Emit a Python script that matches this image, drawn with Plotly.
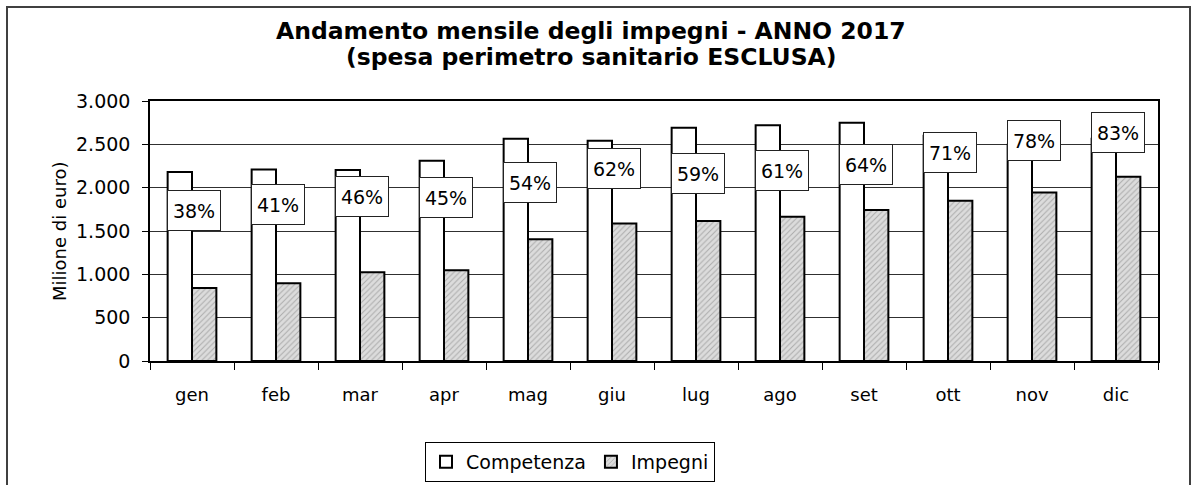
import plotly.graph_objects as go

months = ["gen", "feb", "mar", "apr", "mag", "giu", "lug", "ago", "set", "ott", "nov", "dic"]
competenza = [2180, 2210, 2205, 2310, 2565, 2540, 2690, 2720, 2750, 2600, 2495, 2565]
impegni = [843, 897, 1025, 1048, 1406, 1587, 1614, 1664, 1741, 1848, 1945, 2126]
percentuali = [38, 41, 46, 45, 54, 62, 59, 61, 64, 71, 78, 83]
title_lines = ["Andamento mensile degli impegni - ANNO 2017",
               "(spesa perimetro sanitario ESCLUSA)"]

FONT = "DejaVu Sans"

fig = go.Figure()
fig.add_trace(go.Bar(
    x=months, y=competenza, name="Competenza",
    marker=dict(color="white", line=dict(color="black", width=2)),
))
fig.add_trace(go.Bar(
    x=months, y=impegni, name="Impegni",
    marker=dict(color="#d4d4d4", line=dict(color="black", width=2),
                pattern=dict(shape="/", bgcolor="#dcdcdc", fgcolor="#7a7a7a",
                             size=4, solidity=0.25, fillmode="overlay")),
))
# invisible carrier for the percentage axis
fig.add_trace(go.Scatter(
    x=months, y=[p / 100 for p in percentuali], yaxis="y2",
    mode="markers", marker=dict(opacity=0, size=1), showlegend=False, hoverinfo="skip",
))

for m, p in zip(months, percentuali):
    fig.add_annotation(
        x=m, y=p / 100, xref="x", yref="y2", text=f"{p}%", xshift=2,
        showarrow=False, font=dict(family=FONT, size=19, color="black"),
        bgcolor="white", bordercolor="#222", borderwidth=1, borderpad=1,
        width=50, height=37, align="center", valign="middle",
    )

fig.add_annotation(
    xref="paper", yref="paper", x=-0.0903, y=0.5, text="Milione di euro)",
    textangle=-90, showarrow=False, xanchor="center", yanchor="middle",
    font=dict(family=FONT, size=18, color="black"),
)

for line, ypx in zip(title_lines, [30.5, 57]):
    fig.add_annotation(
        xref="paper", yref="paper", x=(591 - 150) / 1008, y=(361 - ypx) / 260,
        text=f"<b>{line}</b>",
        showarrow=False, xanchor="center", yanchor="middle",
        font=dict(family=FONT, size=23.5, color="black"),
    )

# outer chart border
fig.add_shape(type="rect", xref="paper", yref="paper",
              x0=(7 - 150) / 1008, x1=(1190 - 150) / 1008,
              y0=(361 - 520) / 260, y1=(361 - 7) / 260,
              line=dict(color="#404040", width=2), fillcolor="rgba(0,0,0,0)")

fig.update_layout(
    width=1197, height=485,
    margin=dict(l=150, r=39, t=101, b=124, autoexpand=False),
    paper_bgcolor="white", plot_bgcolor="white",
    separators=",.",
    barmode="group", bargap=0.42, bargroupgap=0,
    font=dict(family=FONT, size=18, color="black"),
    showlegend=True,
    legend=dict(
        orientation="h", x=(570 - 150) / 1008, y=(361 - 462) / 260,
        xanchor="center", yanchor="middle",
        bordercolor="black", borderwidth=1, bgcolor="white",
        font=dict(family=FONT, size=19, color="black"),
        itemwidth=30, tracegroupgap=0,
    ),
    xaxis=dict(
        range=[-0.5, 11.5],
        showline=True, linecolor="black", linewidth=1.5, mirror=True,
        ticks="outside", ticklen=7, tickcolor="black", tickson="boundaries",
        tickfont=dict(family=FONT, size=18, color="black"),
        ticklabelstandoff=17, showgrid=False,
    ),
    yaxis=dict(
        range=[0, 3000], dtick=500, tickformat=",d",
        showline=True, linecolor="black", linewidth=1.5, mirror=True,
        ticks="outside", ticklen=6, tickcolor="black",
        showgrid=True, gridcolor="#303030", gridwidth=1,
        tickfont=dict(family=FONT, size=19, color="black"),
        ticklabelstandoff=8, zeroline=False,
    ),
    yaxis2=dict(range=[-0.491, 1.009], overlaying="y", side="right", visible=False),
)

fig.write_html("out.html", config={"displayModeBar": False},
               post_script="document.body.style.margin='0px';document.body.style.overflow='hidden';")
